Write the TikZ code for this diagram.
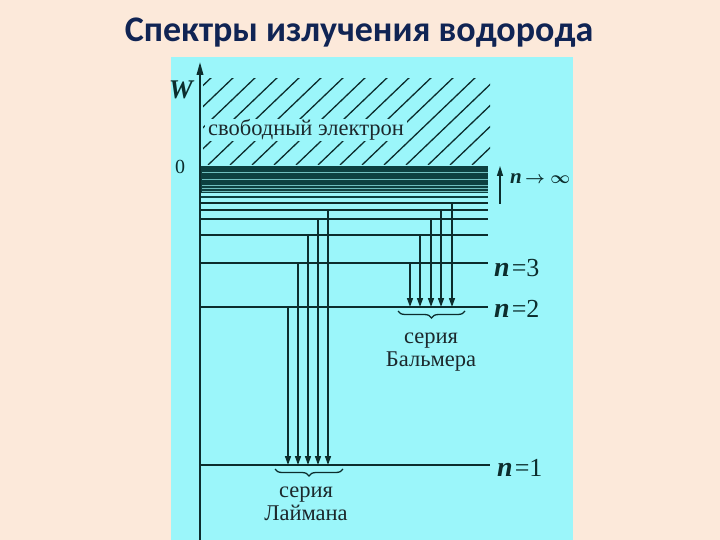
\documentclass[tikz,border=0pt]{standalone}
\usepackage{fontspec}
\setmainfont{Liberation Serif}
\newfontfamily\titlefont{Carlito}
\usetikzlibrary{arrows.meta,decorations.pathreplacing}
\definecolor{peach}{RGB}{252,233,218}
\definecolor{panel}{RGB}{155,246,250}
\definecolor{ink}{RGB}{12,45,45}
\definecolor{band}{RGB}{12,64,64}
\definecolor{gap}{RGB}{110,190,190}
\definecolor{navy}{RGB}{16,36,84}
\definecolor{txt}{RGB}{28,40,44}
\begin{document}
\begin{tikzpicture}[x=1pt,y=-1pt,
  level/.style={ink,line width=2pt},
  trans/.style={ink,line width=1.5pt,-{Triangle[length=9pt,width=6pt]}},
  lbl/.style={font=\fontsize{22.5}{23}\selectfont,text=txt,align=center,inner sep=0pt},
  nlab/.style={font=\fontsize{26}{26}\selectfont,text=ink,anchor=base west,inner sep=0pt},
  brc/.style={decorate,decoration={brace,mirror,amplitude=7pt},ink,line width=1.3pt},
  hatch/.style={ink,line width=1.3pt}]
\fill[peach] (0,0) rectangle (720,540);
\useasboundingbox (0,0) rectangle (720,540);
\fill[panel] (171,57) rectangle (573,540);
\node[font=\titlefont\bfseries\fontsize{36}{38}\selectfont,text=navy] (title) at (359,33) {Спектры излучения водорода};
% hatching
\begin{scope}
  \clip (203,79) rectangle (490,165);
  \foreach \i in {0,...,20}
    \draw[hatch] ({120+\i*22},165) -- ++(94,-90);
\end{scope}
\node[fill=panel,font=\fontsize{22.5}{23}\selectfont,text=txt,inner xsep=3pt,inner ysep=1pt] (free) at (306,130) {свободный электрон};
% axis
\coordinate (axb) at (200,540);
\coordinate (axt) at (200,62);
\draw[ink,line width=2pt,-{Triangle[length=13pt,width=6.5pt]}] (axb) -- (axt);
\node[font=\fontsize{27}{27}\selectfont\bfseries\itshape,text=ink] (W) at (181,90) {W};
\node[font=\fontsize{20}{20}\selectfont,text=ink] (zero) at (180,167) {0};
% dense band of levels
\fill[band] (201,166.5) rectangle (488,193.5);
\foreach \y in {172,179,185,188,191}
  \draw[gap,line width=0.6pt] (202,\y) -- (488,\y);
\draw[band,line width=2pt] (201,197.5) -- (488,197.5);
% discrete levels
\foreach \nm/\y in {7/203,6/210,5/219,4/235,3/263,2/307}{
  \coordinate (L\nm a) at (200,\y);
  \coordinate (L\nm b) at (488,\y);
  \draw[level] (L\nm a) -- (L\nm b);
}
\coordinate (L1a) at (200,465);
\coordinate (L1b) at (490,465);
\draw[level] (L1a) -- (L1b);
% Lyman series
\foreach \x/\y in {288/307,298/263,308/235,318/219,328/210}{
  \coordinate (ly\x) at (\x,\y);
  \coordinate (lye\x) at (\x,465);
  \draw[trans] (ly\x) -- (lye\x);
}
% Balmer series
\foreach \x/\y in {410/263,420/235,431/219,441/210,452/203}{
  \coordinate (ba\x) at (\x,\y);
  \coordinate (bae\x) at (\x,307);
  \draw[trans] (ba\x) -- (bae\x);
}
% n -> infinity
\coordinate (infb) at (500,204);
\coordinate (inft) at (500,166);
\draw[ink,line width=1.5pt,-{Triangle[length=10pt,width=6pt]}] (infb) -- (inft);
\node[anchor=base west,inner sep=0pt,text=ink,font=\fontsize{19}{19}\selectfont] (ninf) at (510,184) {{\fontsize{21}{21}\selectfont\textbf{\textit{n}}}\,{\boldmath$\rightarrow\infty$}};
% level labels
\node[nlab] (n3) at (494,276) {{\fontsize{28}{28}\selectfont\textbf{\textit{n}}}\kern2pt=3};
\node[nlab] (n2) at (494,317) {{\fontsize{28}{28}\selectfont\textbf{\textit{n}}}\kern2pt=2};
\node[nlab] (n1) at (497,476) {{\fontsize{28}{28}\selectfont\textbf{\textit{n}}}\kern2pt=1};
% braces
\coordinate (bb1) at (398,311);
\coordinate (bb2) at (465,311);
\draw[brc] (bb1) -- (bb2);
\coordinate (lb1) at (275,469);
\coordinate (lb2) at (343,469);
\draw[brc] (lb1) -- (lb2);
\node[lbl] (balmer) at (431,352) {серия\\Бальмера};
\node[lbl] (lyman) at (306,504) {серия\\Лаймана};
\end{tikzpicture}
\end{document}
